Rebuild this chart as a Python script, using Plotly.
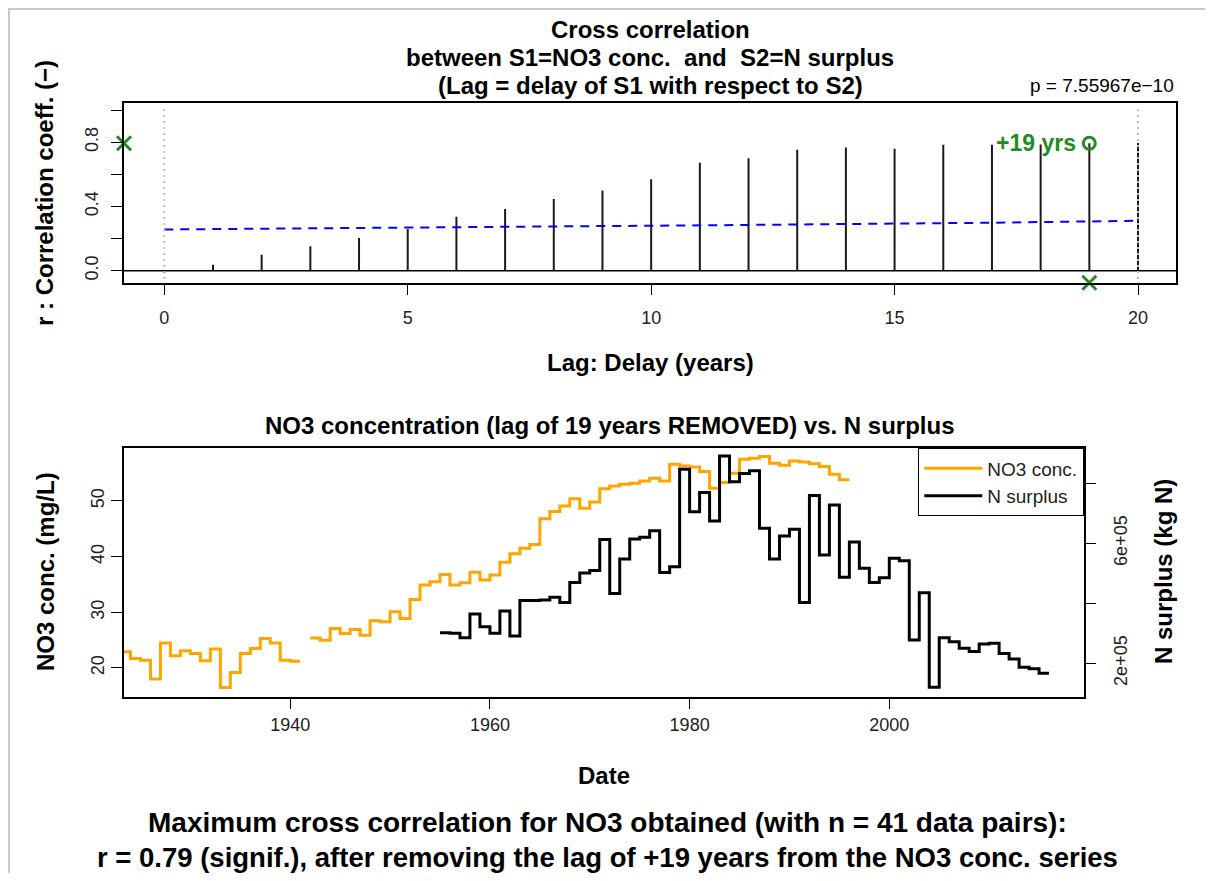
import plotly.graph_objects as go

# ---------------- data ----------------
lags = list(range(21))
r_values = [-0.015, 0.037, 0.10, 0.152, 0.204, 0.26, 0.336, 0.384, 0.447, 0.50, 0.569,
            0.673, 0.70, 0.754, 0.768, 0.76, 0.785, 0.785, 0.787, 0.794, 0.795]
sig_values = [0.257, 0.259, 0.261, 0.263, 0.266, 0.268, 0.271, 0.273, 0.275, 0.278, 0.280,
              0.283, 0.285, 0.288, 0.290, 0.293, 0.296, 0.299, 0.303, 0.307, 0.311]
best_lag = 19
best_r = 0.794
p_text = "p = 7.55967e\u221210"

no3_years = [1923, 1924, 1925, 1926, 1927, 1928, 1929, 1930, 1931, 1932, 1933, 1934, 1935,
             1936, 1937, 1938, 1939, 1940, 1941, 1941.5,
             1942, 1943, 1944, 1945, 1946, 1947, 1948, 1949, 1950, 1951, 1952, 1953, 1954,
             1955, 1956, 1957, 1958, 1959, 1960, 1961, 1962, 1963, 1964, 1965, 1966, 1967,
             1968, 1969, 1970, 1971, 1972, 1973, 1974, 1975, 1976, 1977, 1978, 1979, 1980,
             1981, 1982, 1983, 1984, 1985, 1986, 1987, 1988, 1989, 1990, 1991, 1992, 1993,
             1994, 1995, 1996]
no3_values = [22.9, 21.7, 21.4, 18.0, 24.5, 22.2, 23.1, 22.6, 21.3, 23.4, 16.5, 19.2, 22.6,
              23.5, 25.3, 24.5, 21.4, 21.2, 21.2, None,
              25.4, 25.0, 27.1, 26.2, 26.9, 25.9, 28.5, 28.3, 30.1, 28.9, 32.3, 34.9, 35.5,
              36.8, 34.9, 35.3, 37.2, 35.8, 36.7, 39.0, 40.5, 41.5, 42.2, 46.8, 48.1, 49.1,
              50.4, 48.7, 49.8, 52.2, 52.7, 53.0, 53.2, 53.6, 54.1, 53.6, 56.6, 56.3, 56.1,
              55.3, 52.3, 53.3, 55.0, 57.5, 57.7, 58.0, 56.8, 56.4, 57.2, 57.0, 56.7, 56.2,
              54.8, 53.8, 53.8]

nsur_years = list(range(1955, 2017))
nsur_values = [302000, 300000, 285000, 364000, 322000, 300000, 374000, 291000, 409000, 409000,
               411000, 420000, 403000, 469000, 501000, 509000, 613000, 433000, 548000, 614000,
               620000, 642000, 503000, 522000, 847000, 705000, 769000, 674000, 891000, 805000,
               833000, 842000, 650000, 548000, 624000, 647000, 403000, 759000, 561000, 728000,
               487000, 604000, 517000, 469000, 485000, 550000, 542000, 278000, 435000, 120000,
               285000, 272000, 250000, 239000, 264000, 267000, 233000, 214000, 187000, 182000,
               167000, 167000]

lag_ticks = [0, 5, 10, 15, 20]
r_ticks = [0.0, 0.2, 0.4, 0.6, 0.8, 1.0]
r_ticktext = ["0.0", "", "0.4", "", "0.8", ""]
year_ticks = [1940, 1960, 1980, 2000]
no3_ticks = [20, 30, 40, 50]
nsur_ticks = [200000, 400000, 600000, 800000]
nsur_ticktext = ["2e+05", "", "6e+05", ""]

# ---------------- layout helpers (screen px -> paper) ----------------
W, H = 1197, 865
OFF = 8


def px(x):
    return (x - OFF) / W


def py(y):
    return 1 - (y - OFF) / H


FONT = "Liberation Sans, Arial, Helvetica, sans-serif"
GREEN = "#228B22"
TICKFONT = dict(family=FONT, size=18, color="#222")

fig = go.Figure()

# spikes (built from lags / r_values)
sx, sy = [], []
for l, r in zip(lags, r_values):
    sx += [l, l, None]
    sy += [0, r, None]
fig.add_trace(go.Scatter(x=sx, y=sy, mode="lines", line=dict(color="#1a1a1a", width=2),
                         xaxis="x", yaxis="y", showlegend=False, hoverinfo="skip"))
# significance line
fig.add_trace(go.Scatter(x=lags, y=sig_values, mode="lines",
                         line=dict(color="#0000FF", width=2, dash="9px,7px"),
                         xaxis="x", yaxis="y", showlegend=False))
# best lag circle
fig.add_trace(go.Scatter(x=[best_lag], y=[best_r], mode="markers",
                         marker=dict(symbol="circle-open", size=12, color=GREEN,
                                     line=dict(width=3, color=GREEN)),
                         xaxis="x", yaxis="y", showlegend=False, cliponaxis=False))
# margin crosses
fig.add_trace(go.Scatter(x=[-0.8275, best_lag], y=[best_r, -0.0748], mode="markers",
                         marker=dict(symbol="x-thin", size=14, color=GREEN,
                                     line=dict(width=3, color=GREEN)),
                         xaxis="x", yaxis="y", showlegend=False, cliponaxis=False))

# bottom panel
fig.add_trace(go.Scatter(x=no3_years, y=no3_values, mode="lines", line_shape="hv",
                         line=dict(color="#FFA500", width=3), name="NO3 conc.",
                         connectgaps=False, xaxis="x2", yaxis="y2"))
fig.add_trace(go.Scatter(x=nsur_years, y=nsur_values, mode="lines", line_shape="hv",
                         line=dict(color="#000000", width=3), name="N surplus",
                         xaxis="x2", yaxis="y3"))

axis_common = dict(showline=True, linecolor="black", linewidth=1.5, mirror=True,
                   ticks="outside", ticklen=11, tickwidth=1.3, tickcolor="black",
                   showgrid=False, zeroline=False, tickfont=TICKFONT)

fig.update_layout(
    width=W, height=H,
    margin=dict(l=0, r=0, t=0, b=0),
    paper_bgcolor="white", plot_bgcolor="white",
    font=dict(family=FONT, color="black"),
    xaxis=dict(domain=[px(124), px(1176)], range=[-0.8275, 20.78], anchor="y",
               tickvals=lag_ticks, ticklabelstandoff=7, **axis_common),
    yaxis=dict(domain=[py(282.7), py(103.3)], range=[-0.0748, 1.043], anchor="x",
               tickvals=r_ticks, ticktext=r_ticktext, tickangle=-90,
               ticklabelstandoff=6, **axis_common),
    xaxis2=dict(domain=[px(124), px(1084)], range=[1923.35, 2019.5], anchor="y2",
                tickvals=year_ticks, ticklabelstandoff=0, **axis_common),
    yaxis2=dict(domain=[py(696.7), py(448)], range=[14.84, 59.52], anchor="x2",
                tickvals=no3_ticks, tickangle=-90, ticklabelstandoff=0, **axis_common),
    yaxis3=dict(overlaying="y2", side="right", anchor="x2", range=[88667, 917667],
                tickvals=nsur_ticks, ticktext=nsur_ticktext, tickangle=-90,
                ticks="outside", ticklen=11, tickwidth=1.3, tickcolor="black",
                showline=False, showgrid=False, zeroline=False, ticklabelstandoff=9,
                tickfont=TICKFONT),
    legend=dict(x=px(1084), y=py(448), xanchor="right", yanchor="top",
                bordercolor="black", borderwidth=1.3, bgcolor="white",
                font=dict(family=FONT, size=19, color="#222"),
                itemwidth=58, tracegroupgap=0),
)

shapes = []
# zero line
shapes.append(dict(type="line", xref="x domain", yref="y", x0=0, x1=1, y0=0, y1=0,
                   line=dict(color="black", width=1.5)))
# dotted vertical lines at lag 0 and lag 20
for lv in (lags[0], lags[-1]):
    shapes.append(dict(type="line", xref="x", yref="y domain", x0=lv, x1=lv, y0=0.02, y1=0.98,
                       line=dict(color="#BDBDBD", width=2, dash="2px,4px"), layer="above"))
# light frame (top and left edges)
shapes.append(dict(type="line", xref="paper", yref="paper", x0=0.0008, x1=0.0008, y0=0, y1=1,
                   line=dict(color="#C8C8C8", width=2)))
shapes.append(dict(type="line", xref="paper", yref="paper", x0=0, x1=1, y0=0.9988, y1=0.9988,
                   line=dict(color="#C8C8C8", width=2)))
fig.update_layout(shapes=shapes)


def ann(text, x, y, size=24, bold=True, angle=0, xanchor="center", color="black"):
    fig.add_annotation(text=text, x=px(x), y=py(y), xref="paper", yref="paper",
                       showarrow=False, textangle=angle, xanchor=xanchor, yanchor="middle",
                       font=dict(family=FONT, size=size, color=color,
                                 weight="bold" if bold else "normal"))


ann("Cross correlation", 650, 30)
ann("between S1=NO3 conc.  and  S2=N surplus", 650, 57)
ann("(Lag = delay of S1 with respect to S2)", 650, 85)
ann(p_text, 1176, 85, size=19, bold=False, xanchor="right")
ann("r : Correlation coeff. (\u2212)", 45, 193, angle=-90)
ann("Lag: Delay (years)", 650, 362)
ann("NO3 concentration (lag of 19 years REMOVED) vs. N surplus", 610, 425)
ann("Date", 604, 775)
ann("NO3 conc. (mg/L)", 45, 572, angle=-90)
ann("N surplus (kg N)", 1163, 572, angle=-90)
ann("Maximum cross correlation for NO3 obtained (with n = 41 data pairs):", 607, 822, size=28)
ann("r = 0.79 (signif.), after removing the lag of +19 years from the NO3 conc. series",
    607, 857, size=27.5)
fig.add_annotation(text="+%d yrs" % best_lag, x=best_lag, y=best_r, xref="x", yref="y",
                   showarrow=False, xanchor="right", yanchor="middle", xshift=-11,
                   font=dict(family=FONT, size=23, color=GREEN, weight="bold"))

fig.write_html("out.html")
